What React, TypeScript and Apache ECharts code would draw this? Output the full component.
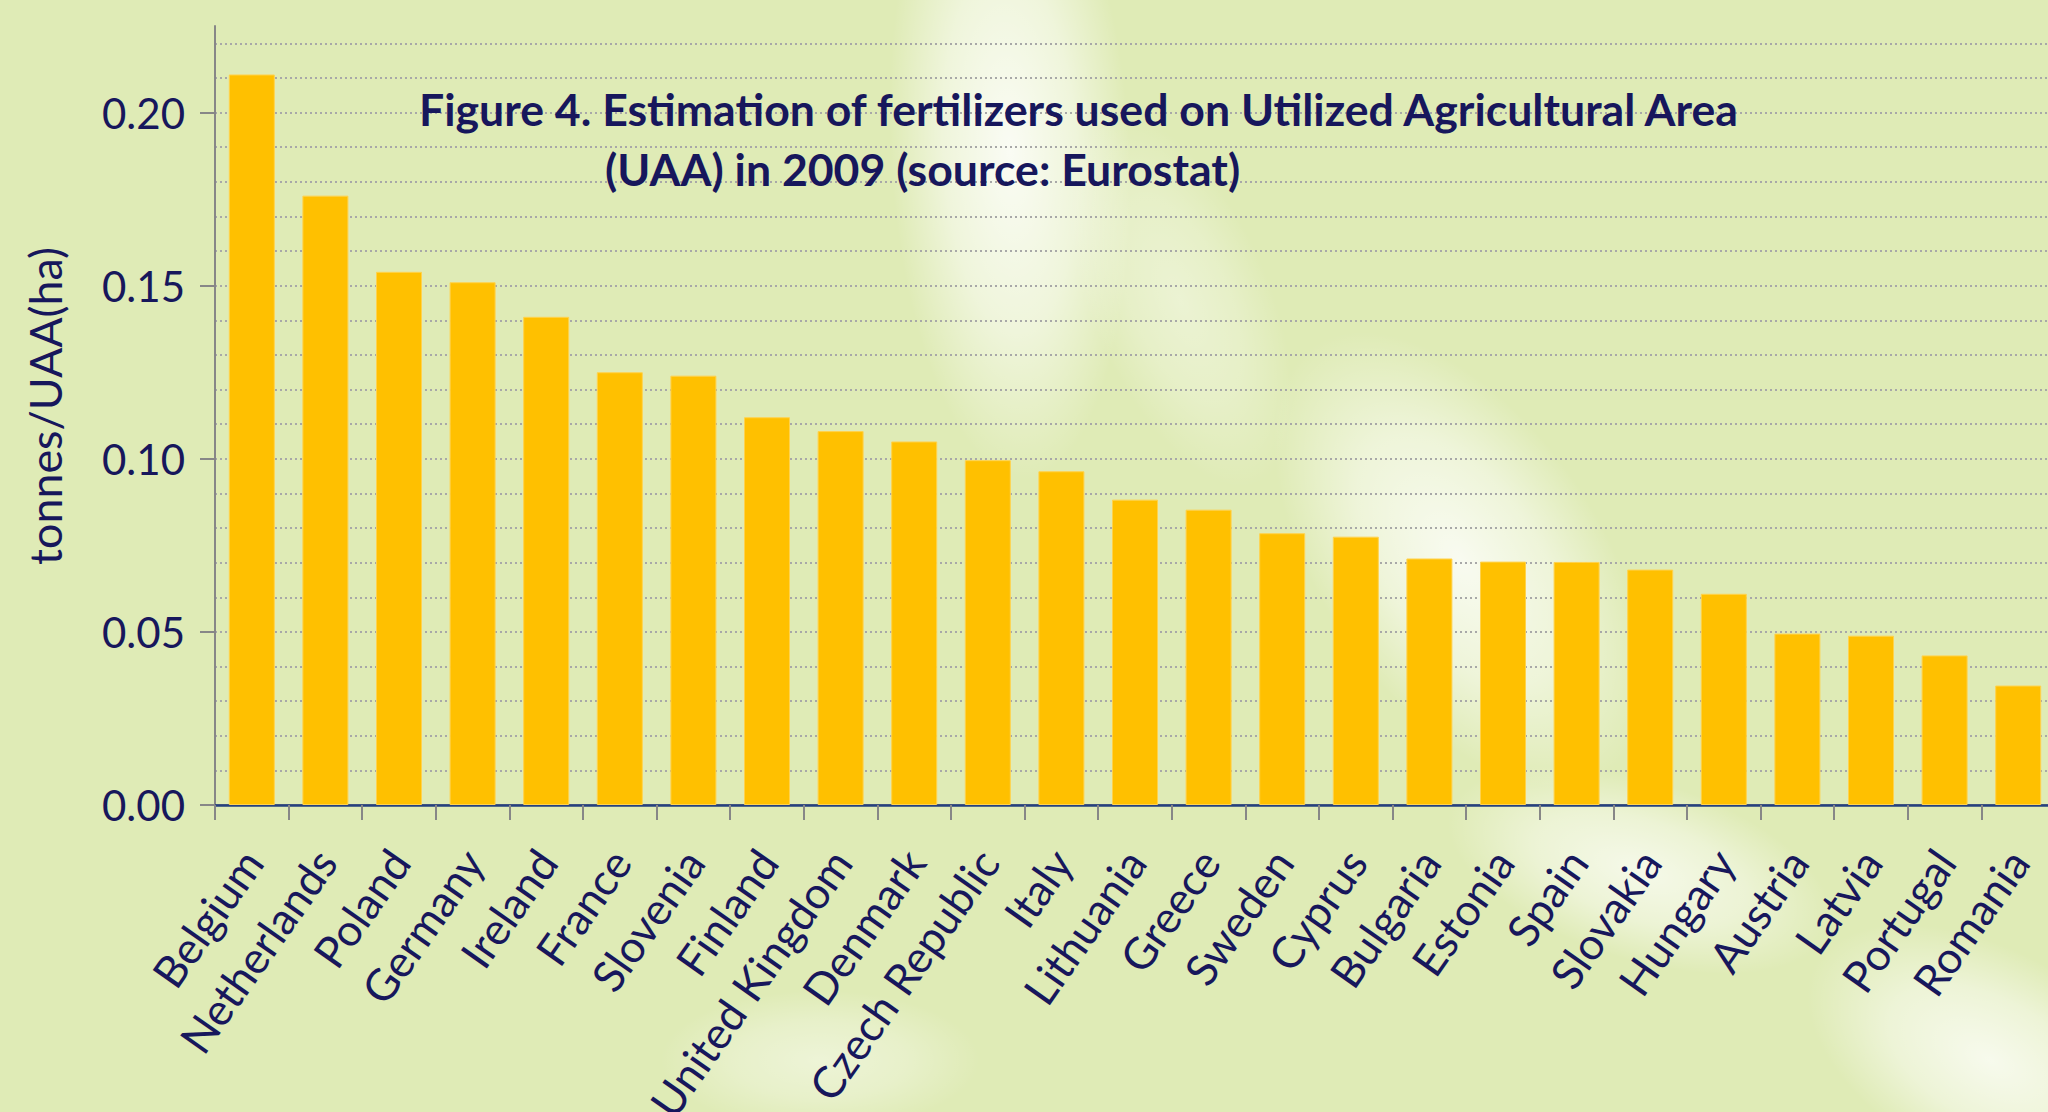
import React, { useEffect, useRef } from "react";
import * as echarts from "echarts";

const countries = [
  "Belgium", "Netherlands", "Poland", "Germany", "Ireland", "France", "Slovenia",
  "Finland", "United Kingdom", "Denmark", "Czech Republic", "Italy", "Lithuania",
  "Greece", "Sweden", "Cyprus", "Bulgaria", "Estonia", "Spain", "Slovakia",
  "Hungary", "Austria", "Latvia", "Portugal", "Romania",
];
const fertilizerPerHa = [
  0.211, 0.176, 0.154, 0.151, 0.141, 0.125, 0.124,
  0.112, 0.108, 0.105, 0.0996, 0.0964, 0.0882,
  0.0853, 0.0785, 0.0775, 0.0712, 0.0703, 0.0702, 0.068,
  0.061, 0.0495, 0.0489, 0.0432, 0.0345,
];
const yTickValues = [0, 0.05, 0.1, 0.15, 0.2];
const titleLine1 = "Figure 4. Estimation of fertilizers used on Utilized Agricultural Area";
const titleLine2 = "(UAA) in 2009 (source: Eurostat)";
const yAxisName = "tonnes/UAA(ha)";

const NAVY = "#17175c";
const FONT = "Lato";

function blob(cx: number, cy: number, rx: number, ry: number, rot: number, a: number) {
  return {
    type: "ellipse",
    z: -100,
    silent: true,
    x: cx,
    y: cy,
    rotation: rot,
    shape: { cx: 0, cy: 0, rx, ry },
    style: {
      fill: new echarts.graphic.RadialGradient(0.5, 0.5, 0.5, [
        { offset: 0, color: `rgba(255,255,255,${a})` },
        { offset: 0.55, color: `rgba(255,255,255,${a * 0.6})` },
        { offset: 1, color: "rgba(255,255,255,0)" },
      ]),
    },
  };
}

export default function App() {
  const ref = useRef<HTMLDivElement>(null);
  useEffect(() => {
    if (!ref.current) return;
    const chart = echarts.init(ref.current, null, { renderer: "svg" });
    chart.setOption({
      animation: false,
      backgroundColor: "#dfebb6",
      grid: {
        left: 215,
        top: 26,
        width: 1840,
        height: 779,
        containLabel: false,
        outerBoundsMode: "none",
      },
      xAxis: [
        {
          type: "category",
          data: countries,
          position: "bottom",
          axisLine: { show: true, lineStyle: { color: "#878787", width: 2 } },
          axisTick: { show: true, length: 15, lineStyle: { color: "#878787", width: 2 } },
          axisLabel: {
            interval: 0,
            rotate: 55,
            margin: 49,
            fontFamily: FONT,
            fontSize: 44,
            color: NAVY,
          },
          splitLine: { show: false },
        },
        {
          type: "category",
          data: countries,
          position: "top",
          axisLine: { show: true, lineStyle: { color: "#24407e", width: 2.5 } },
          axisTick: { show: false },
          axisLabel: { show: false },
          splitLine: { show: false },
        },
      ],
      yAxis: [
        {
          type: "value",
          min: 0,
          max: 0.225,
          interval: 0.05,
          axisLine: { show: true, lineStyle: { color: "#878787", width: 2 } },
          axisTick: {
            show: true,
            length: 15,
            customValues: yTickValues,
            lineStyle: { color: "#878787", width: 2 },
          },
          axisLabel: {
            customValues: yTickValues,
            margin: 30,
            fontFamily: FONT,
            fontSize: 42,
            color: NAVY,
            formatter: (v: number) => v.toFixed(2),
          },
          splitLine: { show: false },
        },
        {
          type: "value",
          min: 0,
          max: 0.225,
          interval: 0.01,
          axisLine: { show: false },
          axisTick: { show: false },
          axisLabel: { show: false },
          splitLine: {
            show: true,
            showMinLine: false,
            showMaxLine: false,
            lineStyle: { color: "#a8a8a8", width: 2, type: [2, 3] },
          },
        },
      ],
      series: [
        {
          type: "bar",
          xAxisIndex: 0,
          yAxisIndex: 0,
          data: fertilizerPerHa,
          barCategoryGap: "37.5%",
          itemStyle: { color: "#ffc000", borderColor: "#ffd24d", borderWidth: 1 },
          z: 3,
        },
      ],
      graphic: [
        blob(1010, 150, 120, 330, 0.05, 0.85),
        blob(1460, 560, 140, 260, 0.6, 0.8),
        blob(1640, 870, 200, 90, -0.3, 0.7),
        blob(1990, 1060, 200, 110, -0.5, 0.75),
        blob(820, 1060, 160, 70, 0, 0.45),
        blob(1180, 300, 90, 200, 0.4, 0.4),
        {
          type: "text",
          x: 419,
          y: 108,
          z: 10,
          style: {
            text: titleLine1,
            fontFamily: FONT,
            fontWeight: "bold",
            fontSize: 44.6,
            fill: NAVY,
            align: "left",
            verticalAlign: "middle",
          },
        },
        {
          type: "text",
          x: 605,
          y: 168,
          z: 10,
          style: {
            text: titleLine2,
            fontFamily: FONT,
            fontWeight: "bold",
            fontSize: 44.6,
            fill: NAVY,
            align: "left",
            verticalAlign: "middle",
          },
        },
        {
          type: "text",
          x: 45,
          y: 406,
          rotation: Math.PI / 2,
          z: 10,
          style: {
            text: yAxisName,
            fontFamily: FONT,
            fontSize: 44.8,
            fill: NAVY,
            align: "center",
            verticalAlign: "middle",
          },
        },
      ],
    });
    return () => chart.dispose();
  }, []);
  return (
    <div
      ref={ref}
      style={{ position: "absolute", left: 0, top: 0, width: 2048, height: 1112 }}
    />
  );
}
